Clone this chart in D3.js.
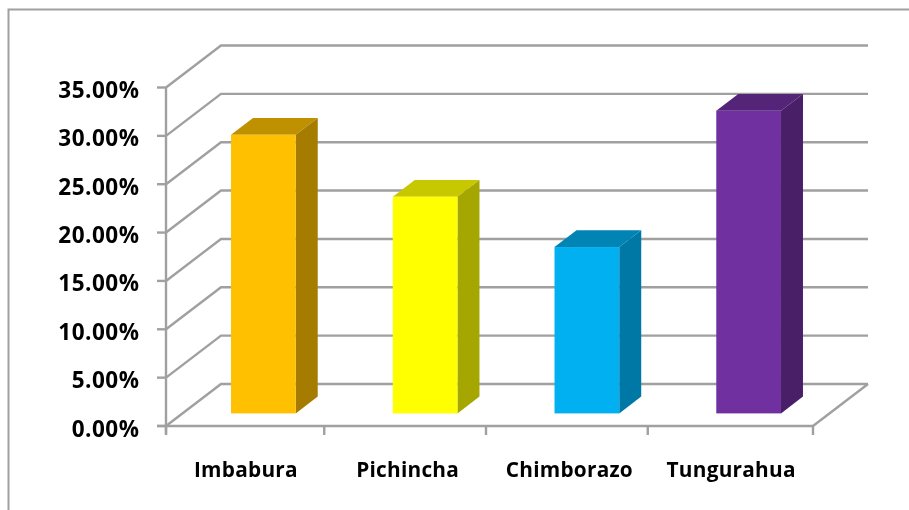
<!DOCTYPE html>
<html><head><meta charset="utf-8">
<script src="https://cdn.jsdelivr.net/npm/d3@7/dist/d3.min.js"></script>
<style>html,body{margin:0;padding:0;background:#fff}svg{display:block;filter:blur(0.45px)}</style>
</head><body><svg id="c" width="909" height="510"></svg>
<script>
const categories=["Imbabura","Pichincha","Chimborazo","Tungurahua"];
const values=[28.8,22.4,17.2,31.3];
const frontColors=["#FFC000","#FFFF00","#00B0F0","#7030A0"];
const topColors=["#BF9000","#C8C800","#0084B4","#542478"];
const sideColors=["#A67C00","#A6A600","#0078A5","#491F68"];
const yTicks=[0,5,10,15,20,25,30,35];
const svg=d3.select("#c");
const gridColor="#a0a0a0";
const gridWidth=2.4;
const font="'Open Sans',sans-serif";
const x=d3.scaleBand().domain(categories).range([166,813]).paddingInner(0.6).paddingOuter(0.3);
const slot=d3.scaleBand().domain(categories).range([166,813]);
const y=d3.scaleLinear().domain([0,35]).range([426,87.5]);
const dx=55,dy=-42;
const line=(a,b,c,d)=>svg.append("line").attr("x1",a).attr("y1",b).attr("x2",c).attr("y2",d).attr("stroke",gridColor).attr("stroke-width",gridWidth);
// frame: open at the right and bottom, as cropped in the reference
svg.append("path").attr("d","M8.5,510V9.5H909").attr("fill","none").attr("stroke","#a0a0a0").attr("stroke-width",2);
// gridlines and value labels
yTicks.forEach(t=>{
  svg.append("path").attr("d",`M166,${y(t)}L${166+dx},${y(t)+dy}L${813+dx},${y(t)+dy}`).attr("fill","none").attr("stroke",gridColor).attr("stroke-width",gridWidth);
  line(157,y(t),166,y(t));
  svg.append("text").attr("x",139.5).attr("y",y(t)+10.5).attr("text-anchor","end")
    .attr("font-family",font).attr("font-weight",700).attr("font-size",22.5).attr("letter-spacing",0.5).attr("fill","#000")
    .text(t.toFixed(2)+"%");
});
// floor edge and axes
line(813,426,813+dx,426+dy);
line(166,y(35),166,434);
line(157,426,813,426);
categories.slice(1).forEach(c=>line(slot(c)-3.5,426,slot(c)-3.5,435));
line(166,426,166,435);
line(813,426,813,435);
// bars
categories.forEach((c,i)=>{
  const sx=dx*0.3, sy=dy*0.3, ox=dx*0.4, oy=dy*0.4;
  const l=x(c)+sx, r=l+x.bandwidth(), b=426+sy, t=b-(y(0)-y(values[i]));
  svg.append("polygon").attr("points",`${l},${t} ${l+ox},${t+oy} ${r+ox},${t+oy} ${r},${t}`).attr("fill",topColors[i]);
  svg.append("polygon").attr("points",`${r},${t} ${r+ox},${t+oy} ${r+ox},${b+oy} ${r},${b}`).attr("fill",sideColors[i]);
  svg.append("rect").attr("x",l).attr("y",t).attr("width",r-l).attr("height",b-t).attr("fill",frontColors[i]);
  svg.append("text").attr("x",slot(c)+slot.bandwidth()/2-1).attr("y",477).attr("text-anchor","middle")
    .attr("font-family",font).attr("font-weight",700).attr("font-size",20.8).attr("letter-spacing",0.25).attr("fill","#000").text(c);
});
</script></body></html>
